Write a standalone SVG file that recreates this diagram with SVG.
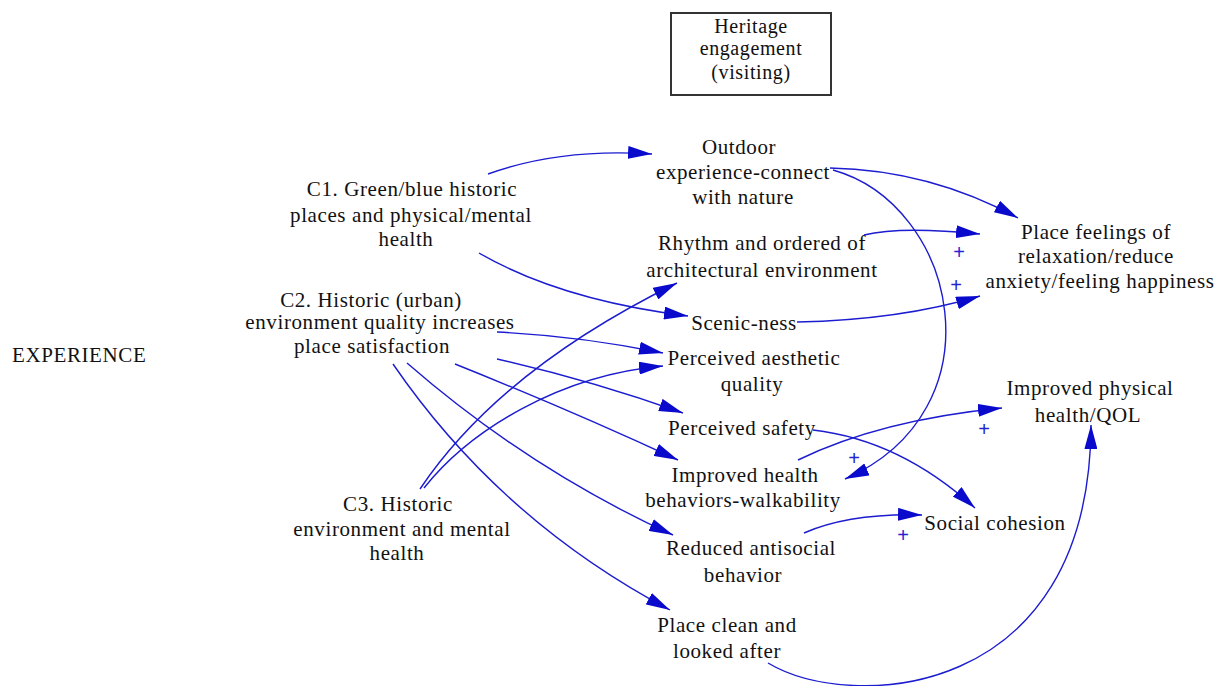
<svg xmlns="http://www.w3.org/2000/svg" width="1220" height="686" viewBox="0 0 1220 686">
  <style>
    .t { font-family: "Liberation Serif", "Times New Roman", serif; font-size: 21px; letter-spacing: 0.6px; fill: #111; text-anchor: middle; }
    .h { font-size: 20px; }
    .e { stroke: #1c1cd0; stroke-width: 1.4; fill: none; marker-end: url(#ah); }
    .p { font-family: "Liberation Sans", Arial, sans-serif; font-size: 20px; fill: #2424d0; text-anchor: middle; }
  </style>
  <defs>
    <marker id="ah" viewBox="0 0 24 13" refX="24" refY="6.5" markerWidth="24" markerHeight="13" markerUnits="userSpaceOnUse" orient="auto">
      <path d="M0,0 L24,6.5 L0,13 z" fill="#0a0acc"/>
    </marker>
  </defs>
  <rect width="1220" height="686" fill="#fff"/>

  <!-- nodes -->
  <g id="heritage">
    <rect x="671" y="13" width="160" height="82" fill="#fff" stroke="#333" stroke-width="2"/>
    <text class="t h" x="751" y="33">Heritage</text>
    <text class="t h" x="751" y="55">engagement</text>
    <text class="t h" x="751" y="79">(visiting)</text>
  </g>
  <g id="experience">
    <text class="t" x="12" y="362" style="text-anchor:start">EXPERIENCE</text>
  </g>
  <g id="c1">
    <text class="t" x="412" y="196">C1. Green/blue historic</text>
    <text class="t" x="411" y="222">places and physical/mental</text>
    <text class="t" x="406" y="246">health</text>
  </g>
  <g id="c2">
    <text class="t" x="371" y="307">C2. Historic (urban)</text>
    <text class="t" x="380" y="329">environment quality increases</text>
    <text class="t" x="372" y="353">place satisfaction</text>
  </g>
  <g id="c3">
    <text class="t" x="398" y="511">C3. Historic</text>
    <text class="t" x="402" y="536">environment and mental</text>
    <text class="t" x="397" y="560">health</text>
  </g>
  <g id="outdoor">
    <text class="t" x="739" y="154">Outdoor</text>
    <text class="t" x="743" y="179">experience-connect</text>
    <text class="t" x="743" y="204">with nature</text>
  </g>
  <g id="rhythm">
    <text class="t" x="762" y="250">Rhythm and ordered of</text>
    <text class="t" x="762" y="277">architectural environment</text>
  </g>
  <g id="scenic">
    <text class="t" x="744" y="330">Scenic-ness</text>
  </g>
  <g id="aesthetic">
    <text class="t" x="754" y="365">Perceived aesthetic</text>
    <text class="t" x="752" y="391">quality</text>
  </g>
  <g id="safety">
    <text class="t" x="742" y="435">Perceived safety</text>
  </g>
  <g id="walkability">
    <text class="t" x="745" y="482">Improved health</text>
    <text class="t" x="743" y="507">behaviors-walkability</text>
  </g>
  <g id="antisocial">
    <text class="t" x="751" y="555">Reduced antisocial</text>
    <text class="t" x="743" y="582">behavior</text>
  </g>
  <g id="clean">
    <text class="t" x="727" y="632">Place clean and</text>
    <text class="t" x="727" y="658">looked after</text>
  </g>
  <g id="cohesion">
    <text class="t" x="995" y="530">Social cohesion</text>
  </g>
  <g id="feelings">
    <text class="t" x="1096" y="239">Place feelings of</text>
    <text class="t" x="1096" y="263">relaxation/reduce</text>
    <text class="t" x="1100" y="288">anxiety/feeling happiness</text>
  </g>
  <g id="physical">
    <text class="t" x="1090" y="395">Improved physical</text>
    <text class="t" x="1088" y="422">health/QOL</text>
  </g>

  <!-- connectors -->
  <g id="connectors">
    <path class="e" d="M488,174 Q560,148 652,154"/>
    <path class="e" d="M479,253 Q560,300 688,316"/>
    <path class="e" d="M497,332 Q580,336 663,353"/>
    <path class="e" d="M424,488 C470,430 560,375 663,366"/>
    <path class="e" d="M420,489 Q500,370 677,283"/>
    <path class="e" d="M497,359 Q590,380 683,413"/>
    <path class="e" d="M455,364 Q570,410 678,460"/>
    <path class="e" d="M407,363 Q530,470 673,535"/>
    <path class="e" d="M393,364 Q500,520 670,610"/>
    <path class="e" d="M830,168 Q930,170 1018,218"/>
    <path class="e" d="M833,170 C958,205 1002,410 845,479"/>
    <path class="e" d="M864,235 Q900,226 980,234"/>
    <path class="e" d="M797,322 Q900,320 980,296"/>
    <path class="e" d="M798,460 Q880,420 1002,408"/>
    <path class="e" d="M813,430 Q900,440 975,508"/>
    <path class="e" d="M804,533 Q850,513 922,515"/>
    <path class="e" d="M768,663 C850,712 1090,702 1091,425"/>
  </g>

  <!-- polarity marks -->
  <g id="polarity">
    <text class="p" x="959" y="259">+</text>
    <text class="p" x="956" y="292">+</text>
    <text class="p" x="984" y="436">+</text>
    <text class="p" x="854" y="465">+</text>
    <text class="p" x="903" y="542">+</text>
  </g>
</svg>
